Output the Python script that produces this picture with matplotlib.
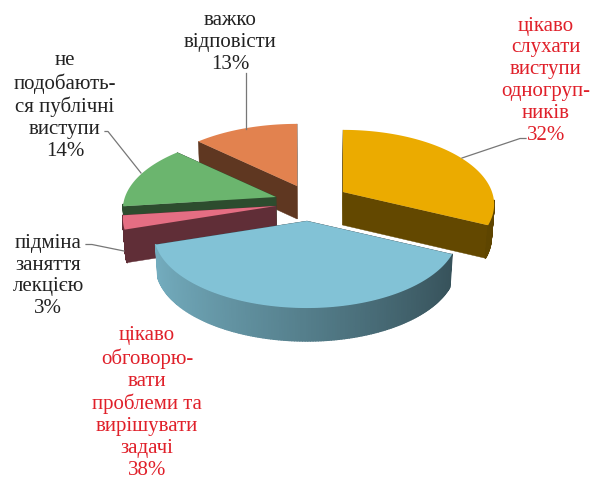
import numpy as np
import matplotlib
matplotlib.use("Agg")
import matplotlib.pyplot as plt
from matplotlib.collections import PolyCollection
from matplotlib.colors import to_rgb

# Data ------------------------------------------------------------------------
slices = ["yellow", "blue", "pink", "green", "orange"]
values = [32, 38, 3, 14, 13]
top_colors = ["#ebab00", "#82c2d6", "#e56e83", "#6bb56e", "#e2824f"]

label_texts = [
    "цікаво\nслухати\nвиступи\nодногруп-\nників\n32%",
    "цікаво\nобговорю-\nвати\nпроблеми та\nвирішувати\nзадачі\n38%",
    "підміна\nзаняття\nлекцією\n3%",
    "не\nподобають-\nся публічні\nвиступи\n14%",
    "важко\nвідповісти\n13%",
]
label_colors = ["#e0202a", "#e0202a", "#222222", "#222222", "#222222"]

# Layout ----------------------------------------------------------------------
tips = [(343, 192), (307, 221), (276, 206), (276, 197), (297, 186)]
label_pos = [(546, 80.5), (147, 403), (48, 276), (65, 106), (230, 42.5)]
# only the blue slice has a gradient on its rim
rim_light = [0.42, 0.9, 0.42, 0.42, 0.42]
leaders = [
    [(462, 158), (520, 138.5), (526, 138.5)],
    None,
    [(86, 244.5), (92, 244.5), (124, 251)],
    [(105, 131.5), (108, 131.5), (141, 173)],
    [(245.5, 73), (245.5, 129)],
]
RX_LEFT, RX_RIGHT, RY, PERSP = 151, 149, 72.5, 0.167
THICK, X0, SHRINK = 33, 305, 0.985


def project(tip, theta):
    # clockwise angle from 12 o'clock -> picture coordinates, with a little perspective
    w = 1 + PERSP * np.cos(theta)
    rx = np.where(np.sin(theta) < 0, RX_LEFT, RX_RIGHT)
    return tip[0] + rx * np.sin(theta) / w, tip[1] - RY * np.cos(theta) / w


def drop(x, y):
    return X0 + (x - X0) * SHRINK, y + THICK


def shade(color, factor):
    return tuple(c * factor for c in to_rgb(color))


fig = plt.figure(figsize=(5.94, 4.78), dpi=100)
ax = fig.add_axes([0, 0, 1, 1])
ax.set_xlim(0, 594)
ax.set_ylim(478, 0)
ax.axis("off")

edges = np.cumsum([0] + values) / sum(values) * 2 * np.pi
# back slices first so the front ones cover them
draw_order = [4, 3, 2, 0, 1]

for z, i in enumerate(draw_order):
    tip, col = tips[i], top_colors[i]
    theta = np.linspace(edges[i], edges[i + 1], 160)
    xs, ys = project(tip, theta)
    bx, by = drop(xs, ys)
    tbx, tby = drop(np.float64(tip[0]), np.float64(tip[1]))

    # flat side walls
    for k in (0, -1):
        wall = [tip, (xs[k], ys[k]), (bx[k], by[k]), (tbx, tby)]
        ax.fill(*zip(*wall), color=shade(col, 0.42), lw=0.3, zorder=z * 3 + 1)

    # rounded outer wall
    quads, colors = [], []
    for j in range(len(theta) - 1):
        if np.cos(theta[j]) < -0.1:
            quads.append([(xs[j], ys[j]), (xs[j + 1], ys[j + 1]),
                          (bx[j + 1], by[j + 1]), (bx[j], by[j])])
            frac = (np.sin(theta[j]) + 1) / 2
            colors.append(shade(col, rim_light[i] - (rim_light[i] - 0.4) * frac))
    if quads:
        ax.add_collection(PolyCollection(quads, facecolors=colors, edgecolors=colors,
                                         linewidths=1.0, zorder=z * 3 + 2))

    # top face
    ax.fill(np.r_[tip[0], xs], np.r_[tip[1], ys], color=col, lw=0, zorder=z * 3 + 3)

for pts in leaders:
    if pts:
        ax.plot(*zip(*pts), color="#777777", lw=0.9, zorder=40)

for text, pos, c in zip(label_texts, label_pos, label_colors):
    ax.text(pos[0], pos[1], text, color=c, family="Liberation Serif", fontsize=15,
            ha="center", va="center", linespacing=1.2, zorder=41)

fig.savefig("out.png", dpi=100)
